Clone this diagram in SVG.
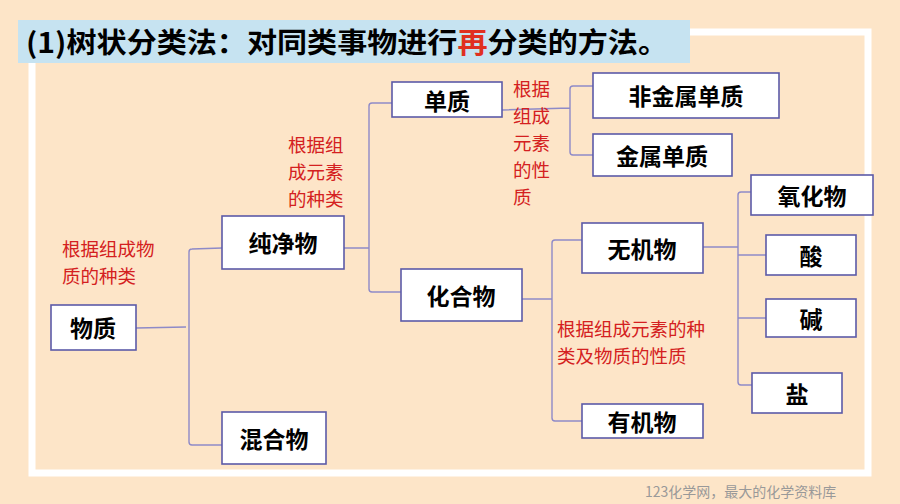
<svg xmlns="http://www.w3.org/2000/svg" width="900" height="504" viewBox="0 0 900 504">
<style>
.n rect{fill:#fff;stroke:#5c5aa8;stroke-width:1.6}
.n text{font-family:"Noto Sans CJK SC",sans-serif;font-weight:bold;font-size:23px;fill:#000;text-anchor:middle;dominant-baseline:central}
.r{font-family:"Noto Sans CJK SC",sans-serif;font-size:18.5px;fill:#d42020}
#c path{fill:none;stroke:#8e8ac8;stroke-width:1.4}
</style>
<rect width="900" height="504" fill="#fde5c8"/>
<rect x="32" y="32" width="836" height="441" fill="none" stroke="#fff" stroke-width="7"/>
<rect x="18" y="20" width="672" height="43" fill="#c6e3f1"/>
<text x="26" y="53" font-family="Noto Sans CJK SC,sans-serif" font-weight="bold" font-size="28" fill="#000" textLength="642" lengthAdjust="spacingAndGlyphs">(1)树状分类法：对同类事物进行<tspan fill="#e03020">再</tspan>分类的方法。</text>
<g id="c">
<path d="M136,328 L186,327 M192,249 Q189,249 189,252 L189,442 Q189,445 192,445 L222,445 M192,249 L222,248"/>
<path d="M344,248 L369,248 M372,103 Q369,103 369,106 L369,289 Q369,292 372,292 L401,292 M372,103 L392,103"/>
<path d="M502,110 L570,108 M573,86 Q570,86 570,89 L570,152 Q570,155 573,155 L593,155 M573,86 L593,86"/>
<path d="M522,299 L552,299 M555,240 Q552,240 552,243 L552,418 Q552,421 555,421 L582,421 M555,240 L582,240"/>
<path d="M703,247 L738,247 M741,192 Q738,192 738,195 L738,382 Q738,385 741,385 L752,385 M741,192 L751,192 M738,255 L766,255 M738,318 L766,318"/>
</g>
<g id="wuzhi" class="n"><rect x="51" y="305" width="85" height="45"/><text x="93" y="327">物质</text></g>
<g id="chunjingwu" class="n"><rect x="222" y="216" width="122" height="53"/><text x="283" y="242">纯净物</text></g>
<g id="hunhewu" class="n"><rect x="222" y="412" width="104" height="52"/><text x="274" y="438">混合物</text></g>
<g id="danzhi" class="n"><rect x="392" y="82" width="110" height="35"/><text x="447" y="100">单质</text></g>
<g id="huahewu" class="n"><rect x="401" y="269" width="121" height="52"/><text x="461" y="295">化合物</text></g>
<g id="feijinshu" class="n"><rect x="593" y="73" width="186" height="45"/><text x="686" y="95">非金属单质</text></g>
<g id="jinshu" class="n"><rect x="593" y="134" width="139" height="42"/><text x="662" y="155">金属单质</text></g>
<g id="wujiwu" class="n"><rect x="582" y="223" width="121" height="50"/><text x="642" y="248">无机物</text></g>
<g id="youjiwu" class="n"><rect x="582" y="404" width="121" height="34"/><text x="642" y="421">有机物</text></g>
<g id="yanghuawu" class="n"><rect x="751" y="175" width="122" height="40"/><text x="812" y="195">氧化物</text></g>
<g id="suan" class="n"><rect x="766" y="235" width="90" height="40"/><text x="811" y="255">酸</text></g>
<g id="jian" class="n"><rect x="766" y="299" width="90" height="38"/><text x="811" y="318">碱</text></g>
<g id="yan" class="n"><rect x="752" y="373" width="90" height="40"/><text x="797" y="393">盐</text></g>
<text class="r" x="62" y="256">根据组成物</text>
<text class="r" x="62" y="283">质的种类</text>
<text class="r" x="288" y="152">根据组</text>
<text class="r" x="288" y="179">成元素</text>
<text class="r" x="288" y="206">的种类</text>
<text class="r" x="513" y="96">根据</text>
<text class="r" x="513" y="123">组成</text>
<text class="r" x="513" y="150">元素</text>
<text class="r" x="513" y="177">的性</text>
<text class="r" x="513" y="204">质</text>
<text class="r" x="557" y="336">根据组成元素的种</text>
<text class="r" x="557" y="363">类及物质的性质</text>
<text x="645" y="497" font-family="Noto Sans CJK SC,sans-serif" font-size="14" fill="#999">123化学网，最大的化学资料库</text>
</svg>
